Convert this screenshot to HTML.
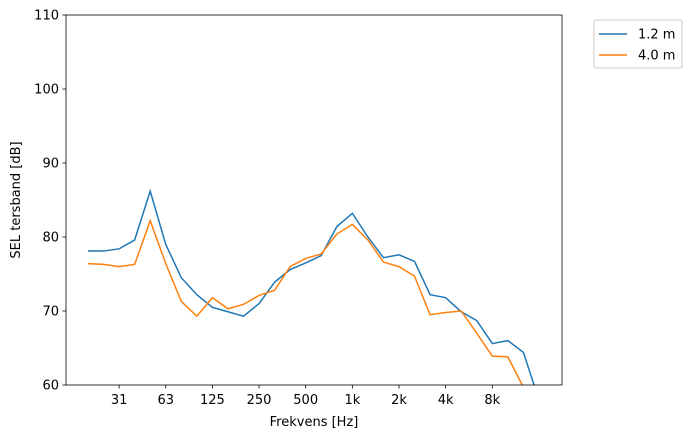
<!DOCTYPE html>
<html><head><meta charset="utf-8"><style>
body{margin:0;background:#fff;font-family:"Liberation Sans","DejaVu Sans",sans-serif}
svg text{font-family:"DejaVu Sans","Liberation Sans",sans-serif;font-size:13px;fill:#000}
</style></head><body>
<svg id="chart" width="693" height="438" xmlns="http://www.w3.org/2000/svg">
<defs><clipPath id="clip"><rect x="66" y="15" width="496" height="370"/></clipPath></defs>
<g id="axes"></g>
<g id="series" clip-path="url(#clip)"></g>
<rect x="66" y="15" width="496" height="370" fill="none" stroke="#000" stroke-width="0.8"/>
<text x="314" y="426" text-anchor="middle">Frekvens [Hz]</text>
<text transform="translate(20,200) rotate(-90)" text-anchor="middle">SEL tersband [dB]</text>
<g>
<rect x="594" y="20" width="88" height="48" fill="#fff" stroke="#ccc" rx="2"/>
<line x1="599" y1="34" x2="627" y2="34" stroke="#1f77b4" stroke-width="1.5"/>
<text x="638" y="38.5">1.2 m</text>
<line x1="599" y1="55" x2="627" y2="55" stroke="#ff7f0e" stroke-width="1.5"/>
<text x="638" y="59.5">4.0 m</text>
</g>
</svg>
<script>
const xTickLabels=["31","63","125","250","500","1k","2k","4k","8k"];
const xTickIndex=[2,5,8,11,14,17,20,23,26];
const yTicks=[60,70,80,90,100,110];
const series12=[78.1,78.1,78.4,79.6,86.2,79,74.5,72.2,70.5,69.9,69.3,71,73.9,75.6,76.5,77.5,81.4,83.2,80,77.2,77.6,76.7,72.2,71.8,69.9,68.7,65.6,66,64.4,58];
const series40=[76.4,76.3,76,76.3,82.2,76.4,71.3,69.3,71.8,70.3,70.9,72.1,72.8,76,77.1,77.7,80.4,81.7,79.6,76.6,76,74.7,69.5,69.8,70,67,63.9,63.8,59.7,57];
const NS="http://www.w3.org/2000/svg";
const xs=i=>88+15.55*i;
const ys=v=>385-(v-60)*7.4;
const axes=document.getElementById('axes');
function mk(t,a,p){const e=document.createElementNS(NS,t);for(const k in a)e.setAttribute(k,a[k]);p.appendChild(e);return e;}
xTickIndex.forEach((ix,j)=>{const x=xs(ix);
const l=mk('line',{x1:x,x2:x,y1:385,y2:388.5,stroke:'#000','stroke-width':0.8},axes);


const t=mk('text',{x:x,y:404,'text-anchor':'middle'},axes);t.textContent=xTickLabels[j];

});
yTicks.forEach(v=>{const y=ys(v);
const l=mk('line',{x1:62.5,x2:66,y1:y,y2:y,stroke:'#000','stroke-width':0.8},axes);


const t=mk('text',{x:59,y:y+4.5,'text-anchor':'end'},axes);t.textContent=v;

});
const sg=document.getElementById('series');
[[series12,'#1f77b4','line-1-2m'],[series40,'#ff7f0e','line-4-0m']].forEach(([d,c,n])=>{
const p=mk('polyline',{points:d.map((v,i)=>xs(i)+','+ys(v)).join(' '),fill:'none',stroke:c,'stroke-width':1.5},sg);

});
</script>
</body></html>
